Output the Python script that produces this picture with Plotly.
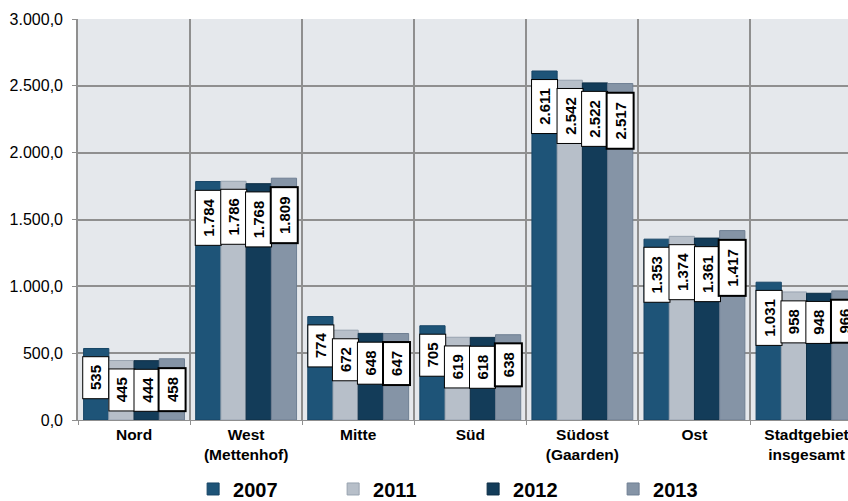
import plotly.graph_objects as go

categories = ["Nord", "West<br>(Mettenhof)", "Mitte", "Süd", "Südost<br>(Gaarden)", "Ost", "Stadtgebiet<br>insgesamt"]
years = ["2007", "2011", "2012", "2013"]
v2007 = [535, 1784, 774, 705, 2611, 1353, 1031]
v2011 = [445, 1786, 672, 619, 2542, 1374, 958]
v2012 = [444, 1768, 648, 618, 2522, 1361, 948]
v2013 = [458, 1809, 647, 638, 2517, 1417, 966]
series = [v2007, v2011, v2012, v2013]

colors = ["#1E5478", "#B7BFC9", "#133C59", "#8594A6"]
line_colors = ["#174566", "#98A3B0", "#0E2F47", "#6F7F93"]

FONT = "Liberation Sans, Arial, sans-serif"
BARGAP = 0.1

fig = go.Figure()
for k, (yr, vals) in enumerate(zip(years, series)):
    fig.add_trace(go.Bar(
        x=categories, y=vals, name=yr,
        marker=dict(color=colors[k], line=dict(color=line_colors[k], width=1)),
        hoverinfo="skip",
    ))

nb = len(series)
bw = (1 - BARGAP) / nb
annotations = []
for k, vals in enumerate(series):
    for i, v in enumerate(vals):
        label = f"{v:,}".replace(",", ".")
        annotations.append(dict(
            x=i + (k - (nb - 1) / 2) * bw, y=v, xref="x", yref="y",
            text="<b>\u00a0" + label + "\u00a0</b>",
            textangle=-90, showarrow=False,
            xanchor="center", yanchor="top", yshift=-8,
            font=dict(family=FONT, size=15, color="black"),
            bgcolor="white", bordercolor="black",
            borderwidth=2 if k == nb - 1 else 1, borderpad=4,
        ))

fig.update_layout(
    width=848, height=501,
    margin=dict(l=78, r=0, t=19, b=81, autoexpand=False),
    paper_bgcolor="white", plot_bgcolor="#E5E8EC",
    barmode="group", bargap=BARGAP, bargroupgap=0,
    separators=",.",
    font=dict(family=FONT, color="black"),
    showlegend=True,
    legend=dict(
        orientation="h", x=0.1495, xanchor="left", y=-0.172, yanchor="middle",
        font=dict(family=FONT, size=20, color="black", weight="bold"),
        entrywidth=95, entrywidthmode="pixels", bgcolor="rgba(0,0,0,0)",
        traceorder="normal",
    ),
    annotations=annotations,
)
fig.update_xaxes(
    type="category", tickson="boundaries",
    range=[-0.5, 6.37], showgrid=True, gridcolor="#8F8F8F", gridwidth=1.6,
    ticks="outside", ticklen=4, tickcolor="#8F8F8F", tickwidth=1.3,
    showline=True, linecolor="#8F8F8F", linewidth=1.3,
    tickfont=dict(family=FONT, size=15.5, color="black", weight="bold"),
    zeroline=False, automargin=False, ticklabeloverflow="allow",
)
fig.update_yaxes(
    range=[0, 3000], dtick=500, tickformat=",.1f",
    showgrid=True, gridcolor="#8F8F8F", gridwidth=1.6,
    ticks="outside", ticklen=4, tickcolor="#8F8F8F", tickwidth=1.3,
    showline=True, linecolor="#8F8F8F", linewidth=1.6,
    tickfont=dict(family=FONT, size=16, color="black"),
    ticklabelstandoff=6, zeroline=False, automargin=False,
)

fig.write_html(
    "out.html",
    config={"displayModeBar": False},
    post_script="document.body.style.margin='0';document.body.style.overflow='hidden';",
)
